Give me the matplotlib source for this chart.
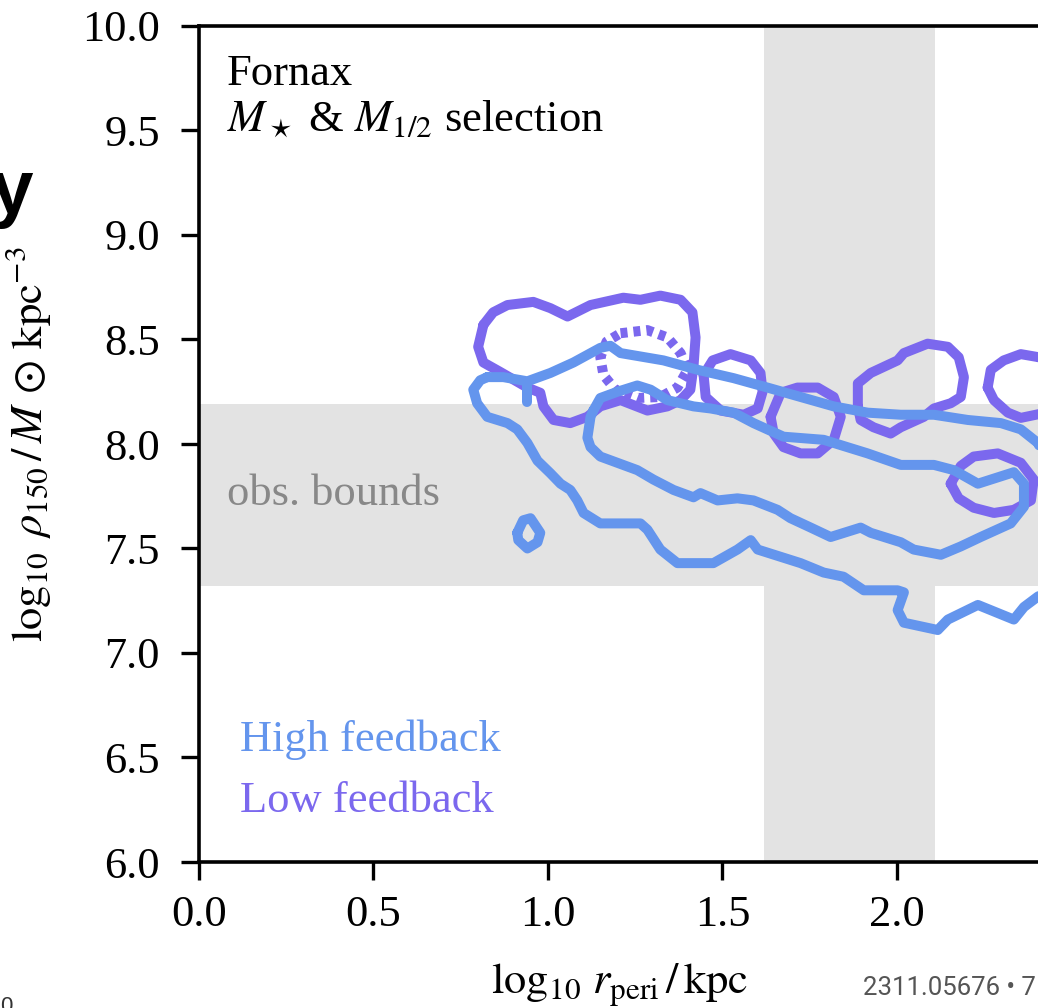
import matplotlib
matplotlib.use("Agg")
import matplotlib.pyplot as plt
import numpy as np

plt.rcParams['font.family'] = ['Liberation Serif', 'DejaVu Serif']
plt.rcParams['mathtext.fontset'] = 'stix'

# ---------------- data ----------------
x_ticks = [0.0, 0.5, 1.0, 1.5, 2.0]
y_ticks = [6.0, 6.5, 7.0, 7.5, 8.0, 8.5, 9.0, 9.5, 10.0]

obs_rho_bounds = [7.32, 8.19]     # log10 rho150 observational band
obs_rperi_bounds = [1.618, 2.108]  # log10 r_peri observational band

# Low feedback contours (solid)
low_c1_x = [0.815, 0.843, 0.884, 0.958, 1.007, 1.056, 1.122, 1.216, 1.265, 1.322, 1.380, 1.414, 1.423, 1.417, 1.408, 1.380, 1.342, 1.285, 1.208, 1.150, 1.113, 1.064, 1.016, 0.987, 0.978, 0.941, 0.863, 0.815, 0.800, 0.815]
low_c1_y = [8.57, 8.63, 8.665, 8.68, 8.65, 8.61, 8.665, 8.70, 8.69, 8.71, 8.69, 8.63, 8.51, 8.37, 8.26, 8.21, 8.18, 8.16, 8.21, 8.18, 8.13, 8.10, 8.115, 8.18, 8.245, 8.27, 8.345, 8.39, 8.465, 8.57]
low_c2_x = [1.446, 1.472, 1.523, 1.581, 1.609, 1.615, 1.601, 1.561, 1.495, 1.452, 1.446]
low_c2_y = [8.33, 8.40, 8.43, 8.40, 8.34, 8.25, 8.17, 8.14, 8.16, 8.225, 8.33]
low_c3_x = [1.638, 1.667, 1.715, 1.773, 1.819, 1.839, 1.819, 1.773, 1.724, 1.675, 1.647, 1.638]
low_c3_y = [8.13, 8.245, 8.27, 8.27, 8.225, 8.13, 8.02, 7.955, 7.955, 7.985, 8.05, 8.13]
low_c4_x = [1.888, 1.888, 1.925, 2.002, 2.020, 2.088, 2.146, 2.177, 2.192, 2.183, 2.154, 2.106, 2.077, 2.011, 1.982, 1.933, 1.896, 1.888]
low_c4_y = [8.18, 8.29, 8.34, 8.40, 8.435, 8.48, 8.465, 8.415, 8.32, 8.225, 8.195, 8.17, 8.13, 8.08, 8.05, 8.08, 8.115, 8.18]
low_c5_x = [2.260, 2.269, 2.306, 2.355, 2.407, 2.447, 2.455, 2.427, 2.355, 2.318, 2.278, 2.260]
low_c5_y = [8.27, 8.355, 8.40, 8.43, 8.415, 8.36, 8.25, 8.15, 8.125, 8.15, 8.21, 8.27]
low_c6_x = [2.154, 2.183, 2.220, 2.289, 2.355, 2.392, 2.384, 2.335, 2.278, 2.220, 2.177, 2.154]
low_c6_y = [7.81, 7.895, 7.94, 7.955, 7.91, 7.83, 7.73, 7.685, 7.67, 7.695, 7.74, 7.81]
# Low feedback inner contour (dashed)
low_d_x = [1.208, 1.285, 1.342, 1.380, 1.400, 1.371, 1.322, 1.256, 1.193, 1.159, 1.150, 1.168, 1.208]
low_d_y = [8.53, 8.545, 8.51, 8.435, 8.355, 8.27, 8.225, 8.22, 8.26, 8.33, 8.415, 8.49, 8.53]

# High feedback contours
high_outer_x = [0.826, 0.872, 0.941, 1.007, 1.073, 1.150, 1.179, 1.208, 1.331, 1.429, 1.532, 1.629, 1.724, 1.819, 1.916, 2.011, 2.106, 2.203, 2.298, 2.355, 2.404, 2.441, 2.456, 2.441, 2.404, 2.364, 2.335, 2.232, 2.146, 2.117, 2.020, 2.002, 2.020, 2.002, 1.905, 1.847, 1.790, 1.724, 1.601, 1.581, 1.543, 1.474, 1.408, 1.371, 1.322, 1.285, 1.265, 1.150, 1.102, 1.084, 1.064, 1.036, 1.007, 0.970, 0.941, 0.912, 0.884, 0.826, 0.797, 0.786, 0.806, 0.826]
high_outer_y = [8.32, 8.32, 8.30, 8.34, 8.39, 8.46, 8.47, 8.435, 8.40, 8.355, 8.315, 8.27, 8.225, 8.18, 8.15, 8.14, 8.14, 8.115, 8.10, 8.07, 8.005, 7.875, 7.54, 7.30, 7.27, 7.22, 7.16, 7.23, 7.16, 7.11, 7.145, 7.205, 7.29, 7.30, 7.30, 7.365, 7.385, 7.43, 7.495, 7.54, 7.495, 7.43, 7.43, 7.43, 7.495, 7.59, 7.62, 7.62, 7.67, 7.73, 7.78, 7.81, 7.86, 7.92, 8.005, 8.07, 8.10, 8.13, 8.195, 8.26, 8.305, 8.32]
high_inner_x = [1.130, 1.150, 1.199, 1.256, 1.294, 1.342, 1.417, 1.466, 1.532, 1.589, 1.675, 1.790, 1.916, 2.011, 2.106, 2.163, 2.232, 2.335, 2.364, 2.364, 2.326, 2.240, 2.183, 2.126, 2.048, 2.011, 1.925, 1.896, 1.810, 1.753, 1.695, 1.658, 1.589, 1.543, 1.486, 1.437, 1.417, 1.360, 1.302, 1.256, 1.199, 1.150, 1.122, 1.113, 1.122, 1.130]
high_inner_y = [8.16, 8.22, 8.25, 8.28, 8.26, 8.21, 8.18, 8.17, 8.15, 8.10, 8.035, 8.02, 7.955, 7.90, 7.90, 7.875, 7.81, 7.865, 7.81, 7.70, 7.62, 7.555, 7.51, 7.47, 7.495, 7.53, 7.575, 7.60, 7.555, 7.60, 7.645, 7.685, 7.73, 7.74, 7.73, 7.765, 7.745, 7.78, 7.83, 7.875, 7.91, 7.94, 7.985, 8.03, 8.13, 8.16]
high_small_x = [0.912, 0.929, 0.950, 0.978, 0.970, 0.941, 0.915, 0.912]
high_small_y = [7.575, 7.635, 7.645, 7.575, 7.53, 7.50, 7.54, 7.575]
high_stub_x = [0.941, 0.941]
high_stub_y = [8.29, 8.20]

low_solid = [(low_c1_x, low_c1_y), (low_c2_x, low_c2_y), (low_c3_x, low_c3_y),
             (low_c4_x, low_c4_y), (low_c5_x, low_c5_y), (low_c6_x, low_c6_y)]
high_lines = [(high_outer_x, high_outer_y), (high_inner_x, high_inner_y),
              (high_small_x, high_small_y), (high_stub_x, high_stub_y)]

HIGH_COL = '#6495ED'
LOW_COL = '#7B68EE'
BAND_COL = '#e3e3e3'

# ---------------- figure ----------------
W, H = 1038, 1008
fig = plt.figure(figsize=(W / 100, H / 100), dpi=100)
ax = fig.add_axes([199 / W, 1 - 862 / H, (1040 - 199) / W, (862 - 26) / H])
ax.set_xlim(0, 2.41)
ax.set_ylim(6.0, 10.0)

ax.axhspan(obs_rho_bounds[0], obs_rho_bounds[1], color=BAND_COL, lw=0, zorder=0)
ax.axvspan(obs_rperi_bounds[0], obs_rperi_bounds[1], color=BAND_COL, lw=0, zorder=0)

LW = 7.2
for xs, ys in low_solid:
    ax.plot(xs, ys, color=LOW_COL, lw=LW, solid_joinstyle='round', solid_capstyle='round', zorder=2)
ax.plot(low_d_x, low_d_y, color=LOW_COL, lw=LW, linestyle=(0, (0.7, 0.6)),
        dash_capstyle='butt', zorder=2)
for xs, ys in high_lines:
    ax.plot(xs, ys, color=HIGH_COL, lw=LW, solid_joinstyle='round', solid_capstyle='round', zorder=3)

FS = 32
ax.text(0.08, 9.718, 'Fornax', fontsize=FS, va='baseline', ha='left')
ax.text(0.08, 9.493, r'$M_\star$ & $M_{1/2}$ selection', fontsize=FS, va='baseline', ha='left')
ax.text(0.08, 7.708, 'obs. bounds', fontsize=FS, va='baseline', ha='left', color='#888888')
ax.text(0.117, 6.531, 'High feedback', fontsize=FS, va='baseline', ha='left', color=HIGH_COL)
ax.text(0.117, 6.239, 'Low feedback', fontsize=FS, va='baseline', ha='left', color=LOW_COL)

ax.set_xticks(x_ticks)
ax.set_xticklabels([f'{v:.1f}' for v in x_ticks])
ax.set_yticks(y_ticks)
ax.set_yticklabels([f'{v:.1f}' for v in y_ticks])
ax.tick_params(axis='both', which='major', labelsize=FS, length=13, width=2.4,
               direction='out', top=False, right=False)
ax.tick_params(axis='x', pad=11)
ax.tick_params(axis='y', pad=15)
for side in ['left', 'bottom', 'top']:
    ax.spines[side].set_linewidth(2.6)
ax.spines['right'].set_visible(False)

ax.set_xlabel(r'$\log_{10}\,r_\mathrm{peri}\,/\,\mathrm{kpc}$', fontsize=FS, labelpad=19)
ax.set_ylabel(r'$\log_{10}\;\rho_{150}\,/\,M\,\odot\,\mathrm{kpc}^{-3}$', fontsize=FS, labelpad=21)

# cropped surrounding text from the source page
fig.text(-10 / W, 1 - 213 / H, 'y', fontsize=55, fontweight='bold',
         family='Liberation Sans', va='baseline', ha='left', color='black')
fig.text(0 / W, 1 - 1012 / H, '0', fontsize=16, family='Liberation Sans',
         va='baseline', ha='left', color='#333333')
fig.text(863 / W, 1 - 995 / H, '2311.05676 \u2022 7', fontsize=18.5, family='Roboto',
         va='baseline', ha='left', color='#555555')

fig.savefig('out.png', dpi=100)
